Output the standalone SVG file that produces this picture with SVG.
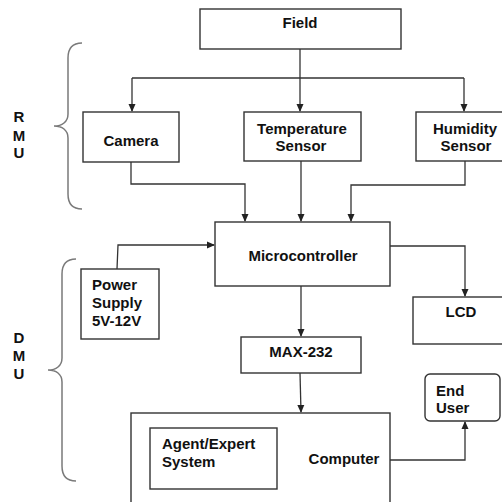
<svg xmlns="http://www.w3.org/2000/svg" width="502" height="502" viewBox="0 0 502 502">
<defs>
<marker id="ah" markerWidth="8" markerHeight="8" refX="7" refY="4" orient="auto" markerUnits="userSpaceOnUse">
<path d="M0,0.5 L8,4 L0,7.5 Z" fill="#222"/>
</marker>
<style>
.box{fill:#fff;stroke:#333;stroke-width:1.4}
.t{font-family:"Liberation Sans",Arial,sans-serif;font-weight:bold;font-size:15px;fill:#111}
.c{text-anchor:middle}
.ln{fill:none;stroke:#333;stroke-width:1.3}
.br{fill:none;stroke:#7a7a7a;stroke-width:1.5}
</style>
</defs>
<rect width="502" height="502" fill="#fff"/>
<g id="connectors">
<path class="ln" d="M300,49 V111" marker-end="url(#ah)"/>
<path class="ln" d="M132,78 H464"/>
<path class="ln" d="M132,78 V111" marker-end="url(#ah)"/>
<path class="ln" d="M464,78 V111" marker-end="url(#ah)"/>
<path class="ln" d="M131,162 V184 H245 V221" marker-end="url(#ah)"/>
<path class="ln" d="M301,161 V221" marker-end="url(#ah)"/>
<path class="ln" d="M465,161 V185 H351 V221" marker-end="url(#ah)"/>
<path class="ln" d="M117,269 L118,245 H214" marker-end="url(#ah)"/>
<path class="ln" d="M390,246 H465 V296" marker-end="url(#ah)"/>
<path class="ln" d="M301,286 V336" marker-end="url(#ah)"/>
<path class="ln" d="M300,373 L301,412" marker-end="url(#ah)"/>
<path class="ln" d="M390,460 H465 V422" marker-end="url(#ah)"/>
</g>
<g id="rmu-brace">
<path class="br" d="M82,43 C72,43 68,48 68,58 V114 C68,122 62,126 54,126 C62,126 68,130 68,138 V194 C68,204 72,209 82,209"/>
<text class="t c" x="19" y="122">R</text>
<text class="t c" x="19" y="140.5">M</text>
<text class="t c" x="19" y="158">U</text>
</g>
<g id="dmu-brace">
<path class="br" d="M76,259 C66,259 62,264 62,274 V358 C62,366 56,370 48,370 C56,370 62,374 62,382 V466 C62,476 66,481 76,481"/>
<text class="t c" x="19" y="343">D</text>
<text class="t c" x="19" y="361">M</text>
<text class="t c" x="19" y="379">U</text>
</g>
<g id="field">
<rect class="box" x="200" y="9" width="201" height="40"/>
<text class="t c" x="300" y="28">Field</text>
</g>
<g id="camera">
<rect class="box" x="83" y="112" width="96" height="50"/>
<text class="t c" x="131" y="145.5">Camera</text>
</g>
<g id="temperature">
<rect class="box" x="244" y="112" width="117" height="49"/>
<text class="t c" x="302" y="134">Temperature</text>
<text class="t c" x="301" y="151">Sensor</text>
</g>
<g id="humidity">
<rect class="box" x="416" y="112" width="100" height="49"/>
<text class="t c" x="465" y="134">Humidity</text>
<text class="t c" x="466" y="151">Sensor</text>
</g>
<g id="microcontroller">
<rect class="box" x="215" y="222" width="175" height="64"/>
<text class="t c" x="303" y="261">Microcontroller</text>
</g>
<g id="power">
<rect class="box" x="81" y="269" width="78" height="70"/>
<text class="t" x="92" y="290">Power</text>
<text class="t" x="92" y="308">Supply</text>
<text class="t" x="92" y="326">5V-12V</text>
</g>
<g id="lcd">
<rect class="box" x="413" y="297" width="100" height="47"/>
<text class="t c" x="461" y="317">LCD</text>
</g>
<g id="max232">
<rect class="box" x="241" y="337" width="120" height="36"/>
<text class="t c" x="301" y="357">MAX-232</text>
</g>
<g id="enduser">
<rect class="box" x="425" y="374" width="75" height="47" rx="5"/>
<text class="t" x="436" y="396">End</text>
<text class="t" x="436" y="413">User</text>
</g>
<g id="computer">
<rect class="box" x="131" y="413" width="259" height="100"/>
<text class="t c" x="344" y="464">Computer</text>
</g>
<g id="agent">
<rect class="box" x="150" y="428" width="127" height="61"/>
<text class="t" x="162" y="449">Agent/Expert</text>
<text class="t" x="162" y="467">System</text>
</g>
</svg>
